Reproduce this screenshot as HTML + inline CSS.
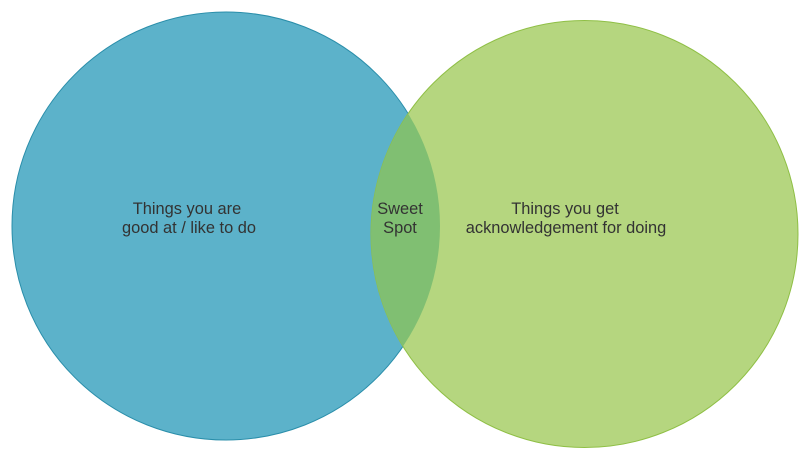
<!DOCTYPE html>
<html><head><meta charset="utf-8"><style>
html,body{margin:0;padding:0;background:#fff;}
svg{display:block;}
text{font-family:"Liberation Sans",Arial,sans-serif;font-size:16.4px;fill:#333;}
</style></head><body>
<svg width="810" height="461" viewBox="0 0 810 461">
<defs>
<clipPath id="cb"><circle cx="226" cy="226" r="214"/></clipPath>
</defs>
<circle cx="226" cy="226" r="214" fill="#5cb2ca" stroke="#2a8eaa" stroke-width="1"/>
<circle cx="584.5" cy="234" r="213.5" fill="#b5d67f" stroke="#8fbf45" stroke-width="1"/>
<circle cx="584.5" cy="234" r="213.5" fill="#80bf72" clip-path="url(#cb)"/>
<text x="187" y="214" text-anchor="middle">Things you are</text>
<text x="189" y="233" text-anchor="middle">good at / like to do</text>
<text x="400" y="214" text-anchor="middle">Sweet</text>
<text x="400" y="233" text-anchor="middle">Spot</text>
<text x="565" y="214" text-anchor="middle">Things you get</text>
<text x="566" y="233" text-anchor="middle">acknowledgement for doing</text>
</svg>
</body></html>
